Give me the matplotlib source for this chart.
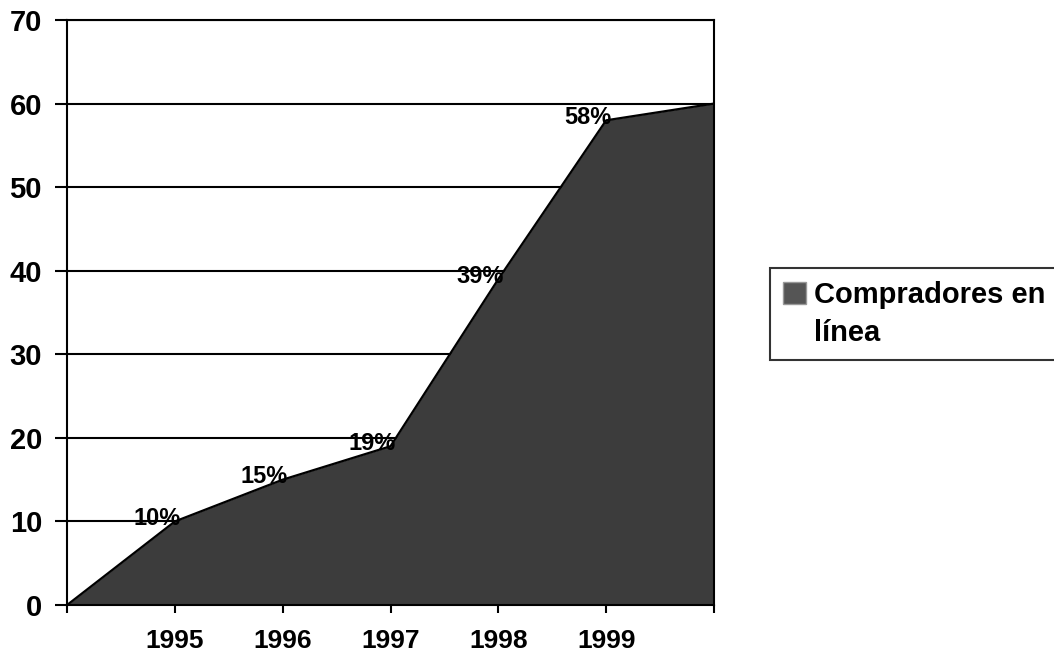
import matplotlib.pyplot as plt
from matplotlib.patches import Patch

plt.rcParams['font.family'] = ['Liberation Sans', 'DejaVu Sans']

# online buyers, percent; series starts at 0 and ends at 60 on the axis edges
years = ['1995', '1996', '1997', '1998', '1999']
buyers = [10, 15, 19, 39, 58]
start_value = 0
end_value = 60
labels = ['10%', '15%', '19%', '39%', '58%']

xs = list(range(len(years) + 2))
ys = [start_value] + buyers + [end_value]

fig = plt.figure(figsize=(10.54, 6.54), dpi=100)
ax = fig.add_axes([0.0636, 0.0749, 0.6138, 0.8945])

ax.fill_between(xs, ys, 0, color='#3c3c3c', lw=0, zorder=2)
ax.plot(xs, ys, color='black', lw=1.6, zorder=3)

for i, lab in enumerate(labels):
    ax.annotate(lab, (xs[i + 1], buyers[i]), xytext=(4, 2),
                textcoords='offset points', ha='right', va='center',
                fontsize=17, fontweight='bold', zorder=4)

ax.set_xlim(0, len(xs) - 1)
ax.set_ylim(0, 70)
ax.set_yticks(range(0, 71, 10))
ax.set_xticks(xs)
ax.set_xticklabels([''] + years + [''])
ax.yaxis.grid(True, color='black', lw=1.5, zorder=1)
ax.set_axisbelow(True)

ax.tick_params(axis='y', length=9, width=1.5, pad=9, labelsize=21)
ax.tick_params(axis='x', length=6, width=1.5, pad=11, labelsize=19)
for t in ax.get_xticklabels() + ax.get_yticklabels():
    t.set_fontweight('bold')
for s in ax.spines.values():
    s.set_linewidth(1.5)

handles = [Patch(facecolor='#555555', edgecolor='#999999'),
           Patch(facecolor='none', edgecolor='none')]
leg = fig.legend(handles, ['Compradores en', 'línea'],
                 loc='upper left', bbox_to_anchor=(770 / 1054, 1 - 268 / 654),
                 prop={'weight': 'bold', 'size': 21},
                 handlelength=0.8, handleheight=0.8, handletextpad=0.25,
                 labelspacing=0.35, borderpad=0.45, borderaxespad=0,
                 fancybox=False, frameon=True)
leg.get_frame().set_edgecolor('black')
leg.get_frame().set_linewidth(1.5)

fig.savefig('out.png', dpi=100)
